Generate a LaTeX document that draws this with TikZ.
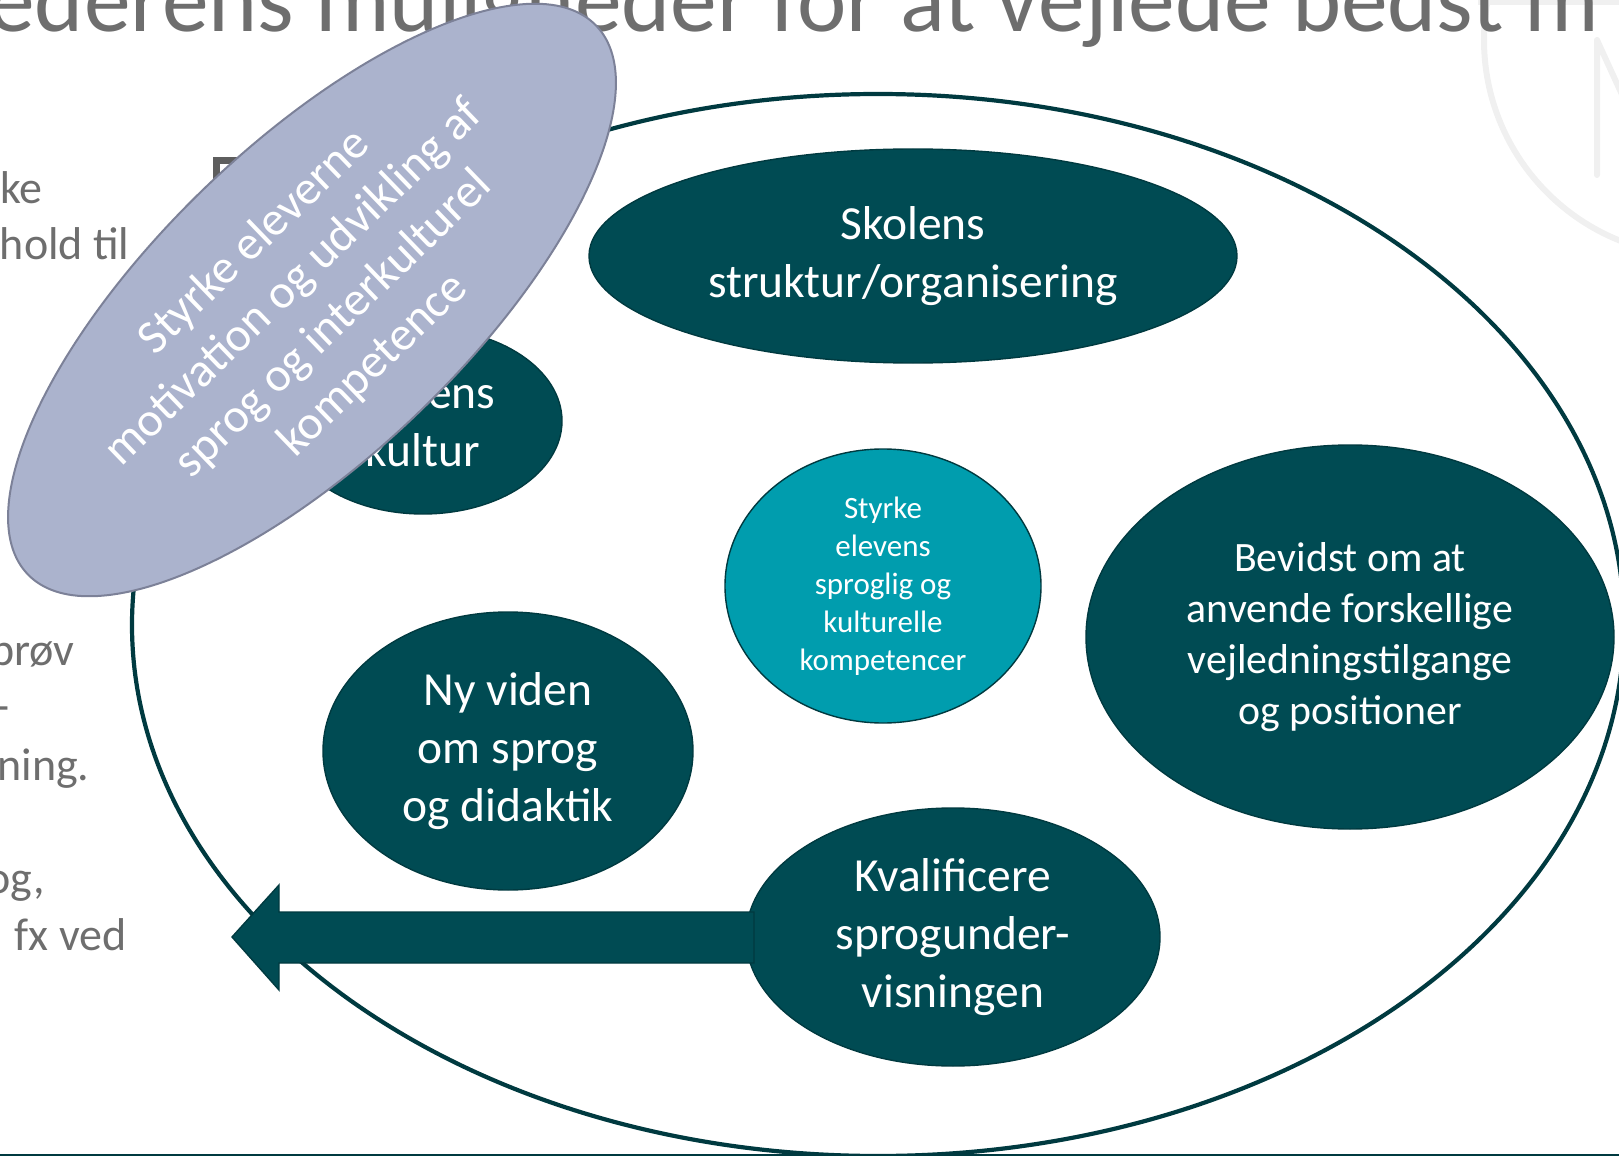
\documentclass[tikz,border=0pt]{standalone}
\usepackage{fontspec}
\setmainfont{Carlito}
\usetikzlibrary{shapes.geometric}

\definecolor{petrol}{HTML}{004B53}
\definecolor{petroledge}{HTML}{003A40}
\definecolor{turkis}{HTML}{009DAE}
\definecolor{lavendel}{HTML}{ABB3CD}
\definecolor{lavendeledge}{HTML}{7C8198}
\definecolor{slidegray}{HTML}{6E6E6E}
\definecolor{faint}{HTML}{F0F0F0}

\begin{document}
\begin{tikzpicture}[x=0.5pt, y=-0.5pt,
    bubble/.style={ellipse, fill=petrol, draw=petroledge, line width=0.7pt, text=white, align=center, inner sep=0pt, font=\fontsize{23.75}{29}\selectfont},
    slidetext/.style={text=slidegray, anchor=base east, inner sep=0pt, font=\fontsize{23}{28}\selectfont}]
    \useasboundingbox (0,0) rectangle (1619,1156);
    \clip (0,0) rectangle (1619,1156);

    \fill[faint] (1478,0) rectangle (1619,5);
    \draw[faint, line width=3pt] (1700,40) circle (216);
    \draw[faint, line width=3pt, line cap=round, line join=round] (1597,175) -- (1597,40) -- (1640,134);

    \node[anchor=base west, inner sep=0pt, text=slidegray, font=\fontsize{46.75}{56}\selectfont] (titel) at (-12,32) {ederens muligheder for at vejlede bedst m};
    \node[slidetext] (t1) at (43,204) {ke};
    \node[slidetext] (t2) at (130,260) {hold til};
    \node[slidetext] (t3) at (75,665) {prøv};
    \node[slidetext] (t4) at (10,721) {-};
    \node[slidetext] (t5) at (90,780) {ning.};
    \node[slidetext] (t6) at (45,893) {og,};
    \node[slidetext] (t7) at (127,950) {fx ved};
    \draw[slidegray!85!black, line width=3.5pt] (216,161) rectangle (260,210);

    \node[ellipse, draw=petroledge, line width=2.1pt, fill=white, inner sep=0pt, minimum width=746pt, minimum height=531pt] (ramme) at (878,625) {};

    \node[bubble, minimum width=324pt, minimum height=107pt] (skole) at (913,256) {Skolens\\struktur/organisering};
    \node[bubble, minimum width=139pt, minimum height=93pt] (kultur) at (423,421) {Skolens\\kultur};
    \node[bubble, minimum width=185pt, minimum height=139pt] (viden) at (508,751) {Ny viden\\om sprog\\og didaktik};
    \node[bubble, minimum width=207pt, minimum height=129pt] (kval) at (953,937) {Kvalificere\\sprogunder-\\visningen};
    \node[bubble, minimum width=264pt, minimum height=192pt, font=\fontsize{20.9}{25.5}\selectfont] (bevidst) at (1350,637) {Bevidst om at\\anvende forskellige\\vejledningstilgange\\og positioner};
    \node[bubble, fill=turkis, minimum width=158pt, minimum height=137pt, font=\fontsize{15.5}{19}\selectfont] (kerne) at (883,586) {Styrke\\elevens\\sproglig og\\kulturelle\\kompetencer};

    \coordinate (pil) at (232,937);
    \filldraw[fill=petrol, draw=petroledge, line width=0.7pt] (pil) -- ++(47,-52) -- ++(0,27) -- ++(475,0) -- ++(0,51) -- ++(-475,0) -- ++(0,27) -- cycle;

    \node[ellipse, fill=lavendel, draw=lavendeledge, line width=1pt, inner sep=0pt, minimum width=395pt, minimum height=155pt, rotate=44] (motiv) at (312,300) {};
    \node[rotate=44, text=white, align=center, inner sep=0pt, font=\fontsize{24}{28.5}\selectfont] (motivtekst) at ([xshift=1pt, yshift=-2pt]motiv.center) {Styrke eleverne\\motivation og udvikling af\\sprog og interkulturel\\kompetence};

    \draw[petroledge, line width=1.5pt] (0,1155) -- (1619,1155);
\end{tikzpicture}
\end{document}
